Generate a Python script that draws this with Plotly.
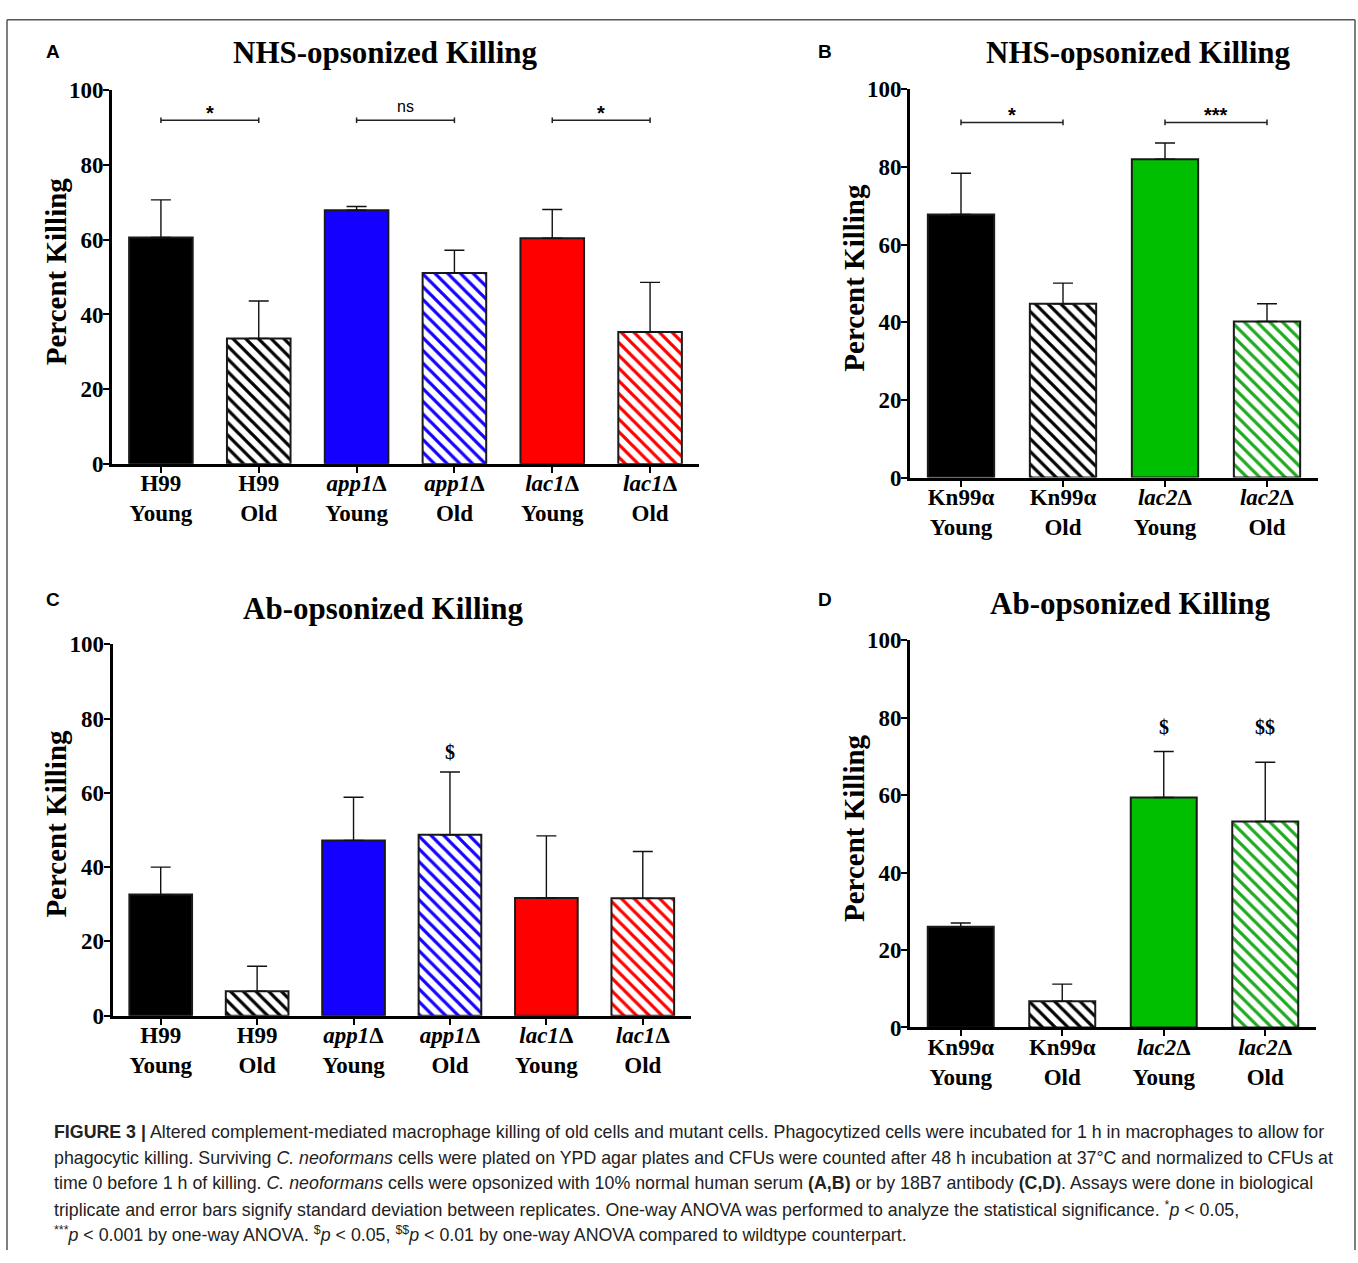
import plotly.graph_objects as go

W, H = 1358, 1263

# ---------------- data ----------------
labels_AC = ["<b>H99<br>Young</b>", "<b>H99<br>Old</b>",
             "<b><i>app1</i>Δ<br>Young</b>", "<b><i>app1</i>Δ<br>Old</b>",
             "<b><i>lac1</i>Δ<br>Young</b>", "<b><i>lac1</i>Δ<br>Old</b>"]
labels_BD = ["<b>Kn99α<br>Young</b>", "<b>Kn99α<br>Old</b>",
             "<b><i>lac2</i>Δ<br>Young</b>", "<b><i>lac2</i>Δ<br>Old</b>"]

mean_A = [60.6, 33.6, 67.9, 51.1, 60.4, 35.3]
sd_A = [10.1, 10.0, 1.0, 6.1, 7.7, 13.3]
mean_B = [67.8, 44.8, 82.0, 40.2]
sd_B = [10.6, 5.3, 4.2, 4.6]
mean_C = [32.6, 6.6, 47.2, 48.7, 31.7, 31.6]
sd_C = [7.4, 6.7, 11.6, 16.9, 16.7, 12.6]
mean_D = [26.0, 6.8, 59.4, 53.2]
sd_D = [1.0, 4.4, 11.9, 15.3]

colors_AC = ["#000000", "#000000", "#1400FF", "#1400FF", "#FF0000", "#FF0000"]
colors_BD = ["#000000", "#000000", "#00BE00", "#1EAA1E"]
hatched_AC = [False, True, False, True, False, True]
hatched_BD = [False, True, False, True]

brackets_A = [(0, 1, 92, "*"), (2, 3, 92, "ns"), (4, 5, 92, "*")]
brackets_B = [(0, 1, 91.5, "*"), (2, 3, 91.5, "***")]
marks_C = [(3, 71, "$")]
marks_D = [(2, 77.5, "$"), (3, 77.5, "$$")]

titles = ["NHS-opsonized Killing", "NHS-opsonized Killing",
          "Ab-opsonized Killing", "Ab-opsonized Killing"]
ytitle = "Percent Killing"
yticks = [0, 20, 40, 60, 80, 100]

caption_lines = [
    "<b>FIGURE 3 |</b> Altered complement-mediated macrophage killing of old cells and mutant cells. Phagocytized cells were incubated for 1 h in macrophages to allow for",
    "phagocytic killing. Surviving <i>C. neoformans</i> cells were plated on YPD agar plates and CFUs were counted after 48 h incubation at 37°C and normalized to CFUs at",
    "time 0 before 1 h of killing. <i>C. neoformans</i> cells were opsonized with 10% normal human serum <b>(A,B)</b> or by 18B7 antibody <b>(C,D)</b>. Assays were done in biological",
    "triplicate and error bars signify standard deviation between replicates. One-way ANOVA was performed to analyze the statistical significance. <sup>*</sup><i>p</i> &lt; 0.05,",
    "<sup>***</sup><i>p</i> &lt; 0.001 by one-way ANOVA. <sup>$</sup><i>p</i> &lt; 0.05, <sup>$$</sup><i>p</i> &lt; 0.01 by one-way ANOVA compared to wildtype counterpart.",
]

# ---------------- layout helpers ----------------
def px(x):
    return x / W

def py(y):
    return 1 - y / H

SERIF = "Liberation Serif, Times New Roman, serif"
SANS = "Liberation Sans, Arial, sans-serif"

# pixel boxes of each plot area: (left, right, top(100), bottom(0))
panels = [
    dict(key="", box=(112, 699, 80, 461), labels=labels_AC, mean=mean_A, sd=sd_A,
         colors=colors_AC, hatched=hatched_AC, letter="A", letter_xy=(53, 40),
         title_xy=(385, 41)),
    dict(key="2", box=(910, 1318, 79, 475), labels=labels_BD, mean=mean_B, sd=sd_B,
         colors=colors_BD, hatched=hatched_BD, letter="B", letter_xy=(825, 40),
         title_xy=(1138, 41)),
    dict(key="3", box=(112.5, 691, 645, 1024), labels=labels_AC, mean=mean_C, sd=sd_C,
         colors=colors_AC, hatched=hatched_AC, letter="C", letter_xy=(53, 599),
         title_xy=(383, 609)),
    dict(key="4", box=(910, 1316, 641, 1036), labels=labels_BD, mean=mean_D, sd=sd_D,
         colors=colors_BD, hatched=hatched_BD, letter="D", letter_xy=(825, 599),
         title_xy=(1130, 603)),
]

fig = go.Figure()
annotations = []
shapes = []

for i, p in enumerate(panels):
    k = p["key"]
    n = len(p["mean"])
    xs = list(range(n))
    for j in xs:
        col = p["colors"][j]
        if p["hatched"][j]:
            mk = dict(color="white", line=dict(color="#1a1a1a", width=2),
                      pattern=dict(shape="\\", fgcolor=col, bgcolor="white",
                                   size=9, solidity=0.36, fillmode="replace"))
        else:
            mk = dict(color=col, line=dict(color="#1a1a1a", width=2))
        fig.add_trace(go.Bar(
            x=[j], y=[p["mean"][j]], width=0.65,
            xaxis="x" + k, yaxis="y" + k, marker=mk,
            error_y=dict(type="data", symmetric=False, array=[p["sd"][j]],
                         arrayminus=[0], color="#111111", thickness=1.4, width=10),
            showlegend=False, hoverinfo="skip",
        ))
    l, r, t, b = p["box"]
    fig.layout["xaxis" + k] = dict(
        domain=[px(l), px(r)], range=[-0.5, n - 0.5], anchor="y" + k,
        tickvals=xs, ticktext=p["labels"],
        showline=True, linecolor="black", linewidth=3,
        ticks="outside", ticklen=6, tickwidth=2, tickcolor="black",
        ticklabelstandoff=-9,
        showgrid=False, zeroline=False, fixedrange=True,
        tickfont=dict(family=SERIF, size=23, color="black"),
    )
    fig.layout["yaxis" + k] = dict(
        domain=[py(b), py(t)], range=[0, 100], anchor="x" + k,
        tickvals=yticks, ticktext=["<b>%d</b>" % v for v in yticks],
        showline=True, linecolor="black", linewidth=3,
        ticks="outside", ticklen=6, tickwidth=2, tickcolor="black",
        ticklabelstandoff=-5,
        showgrid=False, zeroline=False, fixedrange=True,
        tickfont=dict(family=SERIF, size=23, color="black"),
    )
    # title
    annotations.append(dict(
        text="<b>%s</b>" % titles[i], x=px(p["title_xy"][0]), y=py(p["title_xy"][1]),
        xref="paper", yref="paper", xanchor="center", yanchor="middle", showarrow=False,
        font=dict(family=SERIF, size=31, color="black")))
    # panel letter
    annotations.append(dict(
        text="<b>%s</b>" % p["letter"], x=px(p["letter_xy"][0]), y=py(p["letter_xy"][1]),
        xref="paper", yref="paper", xanchor="center", yanchor="middle", showarrow=False,
        font=dict(family=SANS, size=19, color="black")))
    # y axis title
    annotations.append(dict(
        text="<b>%s</b>" % ytitle, x=px(l - 56), y=py((t + b) / 2 - 6),
        xref="paper", yref="paper", xanchor="center", yanchor="middle", showarrow=False,
        textangle=-90, font=dict(family=SERIF, size=29, color="black")))

# significance brackets
for k, br in (("", brackets_A), ("2", brackets_B)):
    for x0, x1, yv, lab in br:
        shapes.append(dict(type="line", xref="x" + k, yref="y" + k, x0=x0, x1=x1,
                           y0=yv, y1=yv, line=dict(color="#222", width=1.5)))
        for xe in (x0, x1):
            shapes.append(dict(type="line", xref="x" + k, yref="y" + k, x0=xe, x1=xe,
                               y0=yv - 0.75, y1=yv + 0.75, line=dict(color="#222", width=1.5)))
        if lab == "ns":
            annotations.append(dict(text=lab, x=(x0 + x1) / 2, y=yv, xref="x" + k, yref="y" + k,
                                    xanchor="center", yanchor="bottom", yshift=3, showarrow=False,
                                    font=dict(family=SANS, size=16, color="black")))
        else:
            annotations.append(dict(text="<b>%s</b>" % lab, x=(x0 + x1) / 2, y=yv, xref="x" + k,
                                    yref="y" + k, xanchor="center", yanchor="bottom", yshift=-6,
                                    showarrow=False,
                                    font=dict(family=SANS, size=20, color="black")))

for k, mk in (("3", marks_C), ("4", marks_D)):
    for xi, yv, lab in mk:
        annotations.append(dict(text="<b>%s</b>" % lab, x=xi, y=yv, xref="x" + k, yref="y" + k,
                                xanchor="center", yanchor="middle", showarrow=False,
                                font=dict(family=SERIF, size=20, color="black")))

# caption
cap_y = [1143, 1169, 1195, 1221, 1247]
for line, yy in zip(caption_lines, cap_y):
    annotations.append(dict(text=line, x=px(52), y=py(yy), xref="paper", yref="paper",
                            xanchor="left", yanchor="middle", showarrow=False,
                            font=dict(family=SANS, size=17.8, color="#222")))

# outer frame (top, left, right)
frame = dict(color="#555", width=1.5)
shapes.append(dict(type="line", xref="paper", yref="paper", x0=px(7), x1=px(1355),
                   y0=py(8), y1=py(8), line=frame))
shapes.append(dict(type="line", xref="paper", yref="paper", x0=px(7), x1=px(7),
                   y0=py(8), y1=py(1263), line=frame))
shapes.append(dict(type="line", xref="paper", yref="paper", x0=px(1355), x1=px(1355),
                   y0=py(8), y1=py(1263), line=frame))

fig.update_layout(
    width=W, height=H, margin=dict(l=0, r=0, t=0, b=0),
    paper_bgcolor="white", plot_bgcolor="white", barmode="overlay",
    annotations=annotations, shapes=shapes, showlegend=False,
)

fig.write_html("out.html", config={"displayModeBar": False})
